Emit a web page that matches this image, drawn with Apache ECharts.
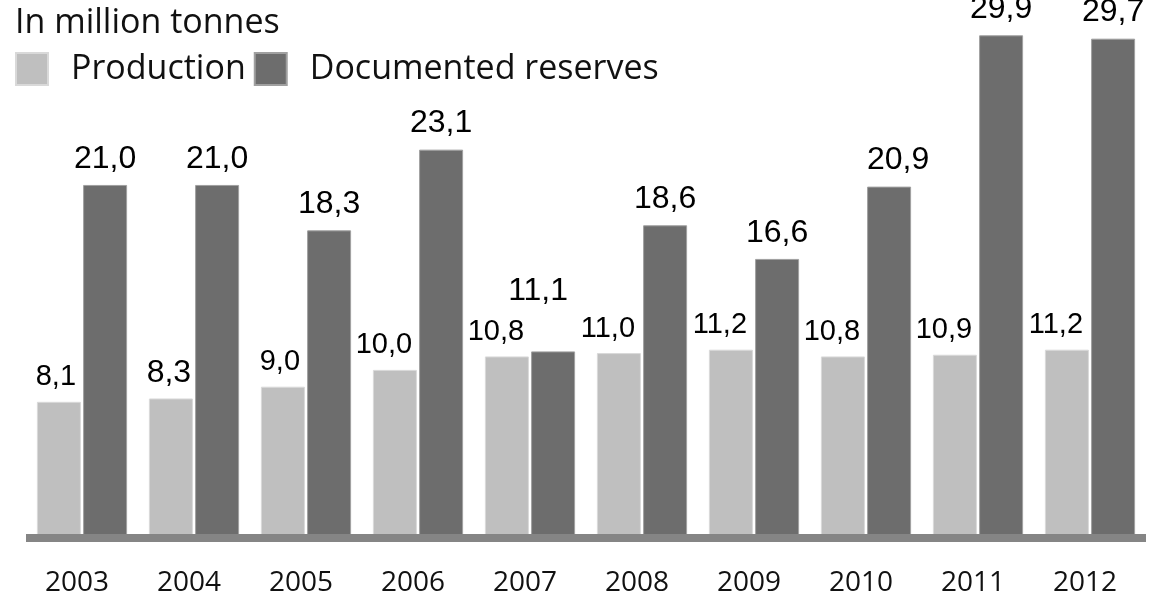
<!DOCTYPE html>
<html>
<head>
<meta charset="utf-8">
<script src="https://cdn.jsdelivr.net/npm/echarts@6/dist/echarts.min.js"></script>
<style>
  html, body { margin: 0; padding: 0; background: #fff; }
  #chart { width: 1157px; height: 597px; }
</style>
</head>
<body>
<div id="chart"></div>
<script>
// Production and documented reserves, million tonnes
const years = ['2003', '2004', '2005', '2006', '2007', '2008', '2009', '2010', '2011', '2012'];
const production = [8.1, 8.3, 9.0, 10.0, 10.8, 11.0, 11.2, 10.8, 10.9, 11.2];
const reserves = [21.0, 21.0, 18.3, 23.1, 11.1, 18.6, 16.6, 20.9, 29.9, 29.7];

const fmt = v => v.toFixed(1).replace('.', ',');
const LIGHT = '#bfbfbf';
const DARK = '#6d6d6d';
const BIG_LABEL = 32;
const SMALL_LABEL = 29;

const chart = echarts.init(document.getElementById('chart'), null, { renderer: 'canvas' });

// production labels: the 2004 one is set in the larger size, two-digit ones sit a bit left
const prodData = production.map((v, i) => ({
  value: v,
  label: i === 1
    ? { fontSize: BIG_LABEL, distance: 9, offset: [-2, 0] }
    : { fontSize: SMALL_LABEL, offset: [v >= 10 ? -11 : -3, 0] }
}));
// reserve labels: 2007 lifted clear of the neighbouring production label
const resData = reserves.map((v, i) => ({
  value: v,
  label: i === 4 ? { distance: 44, offset: [-15, 0] }
       : i === 7 ? { offset: [9, 0] }
       : {}
}));

chart.setOption({
  animation: false,
  title: {
    text: 'In million tonnes',
    left: 11,
    top: 6,
    textStyle: { fontFamily: 'Open Sans', fontSize: 34, fontWeight: 'normal', color: '#111' },
    padding: [0, 4]
  },
  legend: {
    left: 15,
    top: 52,
    padding: 0,
    icon: 'rect',
    itemWidth: 32,
    itemHeight: 32,
    itemGap: 8,
    textStyle: { fontFamily: 'Open Sans', fontSize: 34, color: '#111', padding: [0, 0, 0, 18] },
    data: ['Production', 'Documented reserves']
  },
  grid: { left: 26, right: 11, top: 0, bottom: 58, containLabel: false },
  xAxis: {
    type: 'category',
    data: years,
    z: 10,
    axisLine: { lineStyle: { color: '#858585', width: 8, cap: 'butt' } },
    axisTick: { show: false },
    axisLabel: {
      fontFamily: 'Open Sans', fontSize: 28, color: '#111', margin: 31,
      padding: [0, 10, 0, 0]
    }
  },
  yAxis: {
    type: 'value',
    min: 0,
    max: 32,
    show: false
  },
  series: [
    {
      name: 'Production',
      type: 'bar',
      data: prodData,
      barWidth: 44,
      barGap: '5%',
      itemStyle: { color: LIGHT, borderColor: '#d9d9d9', borderWidth: 1 },
      label: {
        show: true,
        position: 'top',
        distance: 10,
        fontFamily: 'Liberation Sans',
        color: '#000',
        formatter: p => fmt(p.value)
      }
    },
    {
      name: 'Documented reserves',
      type: 'bar',
      data: resData,
      barWidth: 44,
      itemStyle: { color: DARK, borderColor: '#a0a0a0', borderWidth: 1 },
      label: {
        show: true,
        position: 'top',
        distance: 10,
        fontFamily: 'Liberation Sans',
        fontSize: BIG_LABEL,
        color: '#000',
        formatter: p => fmt(p.value)
      }
    }
  ]
});
</script>
</body>
</html>
